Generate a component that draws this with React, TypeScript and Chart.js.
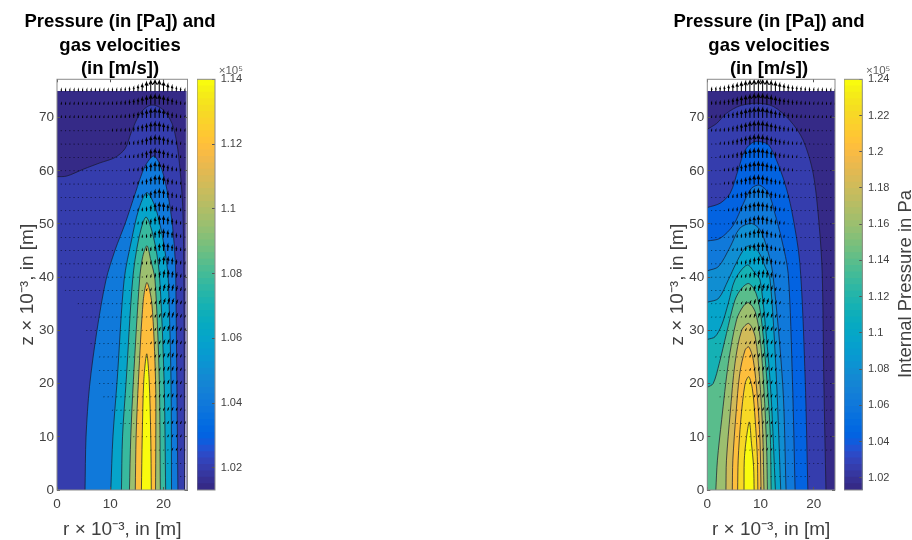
import React, { useEffect, useRef } from "react";
import { Chart, registerables } from "chart.js";

Chart.register(...registerables);

const FONT = "'Liberation Sans', Arial, sans-serif";
const INK = "#404040";
const EDGE = "#8a8a8a";

const titleLines = ["Pressure (in [Pa]) and", "gas velocities", "(in [m/s])"];
const xLabel = "r × 10⁻³, in [m]";
const yLabel = "z × 10⁻³, in [m]";
const barLabel = "Internal Pressure in Pa";
const barExponent = "×10⁵";
const xTicks = [0, 10, 20];
const yTicks = [0, 10, 20, 30, 40, 50, 60, 70];
const leftBarTicks = [1.02, 1.04, 1.06, 1.08, 1.1, 1.12, 1.14];
const rightBarTicks = [1.02, 1.04, 1.06, 1.08, 1.1, 1.12, 1.14, 1.16, 1.18, 1.2, 1.22, 1.24];

const parula = [
  [.2081,.1663,.5292],[.2116,.1898,.5777],[.2123,.2138,.6270],[.2081,.2386,.6771],[.1959,.2645,.7279],[.1707,.2919,.7792],[.1253,.3242,.8303],[.0591,.3598,.8683],
  [.0117,.3875,.8820],[.0060,.4086,.8828],[.0165,.4266,.8786],[.0329,.4430,.8720],[.0498,.4586,.8641],[.0629,.4737,.8554],[.0723,.4887,.8467],[.0779,.5040,.8384],
  [.0793,.5200,.8312],[.0749,.5375,.8263],[.0641,.5570,.8240],[.0488,.5772,.8228],[.0343,.5966,.8199],[.0265,.6137,.8135],[.0239,.6287,.8038],[.0231,.6418,.7913],
  [.0228,.6535,.7768],[.0267,.6642,.7607],[.0384,.6743,.7436],[.0590,.6838,.7254],[.0843,.6928,.7062],[.1133,.7015,.6859],[.1453,.7098,.6646],[.1801,.7177,.6424],
  [.2178,.7250,.6193],[.2586,.7317,.5954],[.3022,.7376,.5712],[.3482,.7424,.5473],[.3953,.7459,.5244],[.4420,.7481,.5033],[.4871,.7491,.4840],[.5300,.7491,.4661],
  [.5709,.7485,.4494],[.6099,.7473,.4337],[.6473,.7456,.4188],[.6834,.7435,.4044],[.7184,.7411,.3905],[.7525,.7384,.3768],[.7858,.7356,.3633],[.8185,.7327,.3498],
  [.8507,.7299,.3360],[.8824,.7274,.3217],[.9139,.7258,.3063],[.9450,.7261,.2886],[.9739,.7314,.2666],[.9938,.7455,.2403],[.9990,.7653,.2164],[.9955,.7861,.1967],
  [.9880,.8066,.1794],[.9789,.8271,.1633],[.9697,.8481,.1475],[.9626,.8705,.1309],[.9589,.8949,.1132],[.9598,.9218,.0948],[.9661,.9514,.0755],[.9763,.9831,.0538],
];

// Contours, outermost first, as [r, z] pairs
const leftContours = [
  [[0,58.9],[1.8,59],[4.95,60.3],[8.1,61.5],[10.9,62.5],[12.8,64.2],[14,67.4],[15.6,70.8],[17.2,72.2],[18.4,72.3],[20,71.4],[21.6,68.9],[22.5,65.2],[23.1,60.2],[23.6,53.3],[23.8,42],[23.9,20],[23.95,0]],
  [[5.26,0],[5.45,10],[6.1,19.4],[7.5,30],[9.2,39.5],[10.9,45.1],[12.8,50.1],[14.7,55.8],[16.5,60.8],[18.2,62.8],[19.7,60.2],[20.9,55.1],[21.7,49.5],[22.2,43.2],[22.3,39.5],[22.5,20.7],[22.7,0]],
  [[10.1,0],[10.5,10],[11.3,20.7],[12.6,39.5],[14,47],[15.3,52.6],[16.85,55.9],[18.4,53.3],[19.7,48.2],[20.6,42.6],[20.9,39.5],[21.4,20.7],[21.5,0]],
  [[12.1,0],[12.3,10],[13,20.7],[14.2,39.5],[15.3,47],[16.7,51.3],[18.1,47.6],[19.2,40.7],[20.1,20.7],[20.4,0]],
  [[13.6,0],[13.85,10],[14.35,20.7],[15.5,39.5],[16.1,43.9],[16.9,45.9],[17.6,43.2],[18.4,39.5],[19.2,20.7],[19.4,0]],
  [[14.7,0],[14.85,10],[15.3,20.7],[16.2,35.7],[16.9,39],[17.8,35.1],[18.5,20.7],[18.55,10],[18.5,0]],
  [[15.85,0],[16,10],[16.3,20.7],[16.85,25.6],[17.3,20.7],[17.6,10],[17.7,0]],
];
const leftBandColors = [0, 3, 13, 23, 32, 41, 53, 63];

const rightContours = [
  [[0,67.8],[1.75,68.9],[3.6,70.8],[6.1,72.2],[9.3,72.7],[12.4,72.1],[15.5,69.5],[18,65.8],[19.9,59.5],[21.05,49.5],[21.6,40.7],[21.9,20.7],[22.3,0]],
  [[0,53.1],[2.4,53.9],[4.3,55.8],[5.8,60.2],[7.1,63.9],[8.65,65.4],[9.8,65.5],[11.5,64.9],[13,62],[14.6,57.6],[15.85,52.6],[17.4,42.6],[18.4,20.7],[18.9,0]],
  [[0,46.8],[2.4,47.3],[4.9,49.8],[6.8,53.9],[8.3,56.7],[9.8,57.3],[11.5,55.8],[12.7,52],[14,47],[15.2,40.7],[16,20.7],[16.5,0]],
  [[0,41.2],[2.1,42],[4.3,45.7],[6.1,49.2],[8.3,50.1],[9.9,48.9],[11.15,45.7],[12.3,40.7],[14.2,19.4],[14.8,0]],
  [[0,35.3],[2.1,36],[3.95,39.5],[5.4,42.6],[6.8,45.1],[7.9,45.9],[9.6,44.8],[10.85,42],[11.8,39.5],[13,20.7],[13.8,0]],
  [[0,28.3],[1.45,28.8],[2.7,31],[3.95,35.1],[5.2,39.5],[7.5,42.3],[9,40.7],[9.9,39.5],[11,30],[12,17.5],[12.8,0]],
  [[0,19.3],[1.1,20],[2.25,23.8],[3.6,29.4],[5.2,35.7],[6.45,37.9],[7.8,38.8],[9.15,37],[10.1,32.6],[11,23.2],[11.8,11.3],[12,0]],
  [[1.6,0],[1.9,5.6],[2.7,13.2],[3.95,23.8],[5.5,32],[6.8,34.6],[7.8,35.2],[9,33.5],[9.9,28.8],[10.65,18.8],[11.15,8.1],[11.3,0]],
  [[3.5,0],[3.6,5.6],[4.3,14.4],[5.2,23.8],[6.45,30],[7.8,31.3],[9,28.8],[9.8,21.3],[10.4,11.3],[10.65,0]],
  [[4.7,0],[4.8,5.6],[5.4,14.4],[6.1,21.9],[7.1,26.3],[7.8,26.9],[8.65,24.4],[9.4,17.5],[9.9,9.4],[10.1,0]],
  [[5.7,0],[5.8,5.6],[6.3,13.2],[7.1,20],[7.8,21.3],[8.5,18.8],[9,13.2],[9.4,6.3],[9.5,0]],
  [[6.9,0],[6.95,5.6],[7.3,9.4],[7.9,12.8],[8.3,8.8],[8.7,4.4],[8.8,0]],
];
const rightBandColors = [0, 3, 8, 13, 18, 23, 28, 35, 41, 47, 53, 58, 63];

// Velocity arrows: one row per height, one value per radial column (length, hundredths of a metre)
const arrowHeights = [75,72.5,70,67.5,65,62.5,60,57.5,55,52.5,50,47.5,45,42.5,40,37.5,35,32.5,30,27.5,25,22.5,20,17.5,15,12.5,10,7.5,5,2.5];
const leftArrowTilt = [0,0,0,0,0,0,0,0,0,0,0,0,0,.05,.1,.2,.3,.3,.3,.3,.3,.3,.3,.3,.3,.3,.3,.3,.3,.3];
const rightArrowTilt = [0,0,0,0,0,0,0,0,0,0,0,0,0,.05,.1,.2,.3,.3,.3,.3,.3,.3,.3,.3,.3,.3,.3,.3,.3,.3];
const leftArrows = [
  [25,25,25,25,25,25,25,25,25,25,25,25,30,30,35,40,50,65,90,120,160,190,200,190,160,120,90,60,40,25],
  [15,15,15,15,15,15,15,15,15,15,18,20,22,25,30,40,55,70,90,115,140,165,175,165,140,110,80,50,30,15],
  [10,10,10,10,10,10,10,10,10,10,10,12,14,17,22,30,40,55,75,100,125,150,160,150,125,95,65,40,25,12],
  [8,8,8,8,8,8,8,8,8,8,8,8,10,12,15,20,30,45,65,90,115,140,155,145,120,90,60,35,20,10],
  [6,6,6,6,6,6,6,6,6,6,6,6,6,8,10,14,20,30,45,70,100,130,150,140,115,85,55,30,15,8],
  [5,5,5,5,5,5,5,5,5,5,5,5,5,5,7,10,15,25,40,65,95,130,150,135,110,80,50,25,12,6],
  [4,4,4,4,4,4,4,4,4,4,4,4,4,4,4,7,11,18,30,50,80,115,145,135,110,80,50,28,14,6],
  [4,4,4,4,4,4,4,4,4,4,4,4,4,4,4,6,9,15,25,40,70,105,140,140,115,85,55,30,15,6],
  [3,3,3,3,3,3,3,3,3,3,3,3,3,3,3,3,6,10,18,30,55,90,125,140,120,90,60,35,18,7],
  [3,3,3,3,3,3,3,3,3,3,3,3,3,3,3,3,5,8,14,25,45,75,115,135,125,95,65,40,20,8],
  [2,2,2,2,2,2,2,2,2,2,2,2,2,2,2,2,2,6,11,20,35,65,100,130,130,100,70,45,22,8],
  [2,2,2,2,2,2,2,2,2,2,2,2,2,2,2,2,2,5,9,16,28,50,85,120,130,105,75,50,25,9],
  [2,2,2,2,2,2,2,2,2,2,2,2,2,2,2,2,2,2,7,13,22,40,70,105,125,110,80,52,28,10],
  [2,2,2,2,2,2,2,2,2,2,2,2,2,2,2,2,2,2,6,11,18,30,55,90,115,110,85,55,30,11],
  [1,1,1,1,1,1,1,1,1,1,1,1,1,1,1,1,1,1,1,8,14,25,45,75,105,105,85,58,32,12],
  [0,1,1,1,1,1,1,1,1,1,1,1,1,1,1,1,1,1,1,6,11,20,35,60,90,95,80,58,32,12],
  [0,0,0,0,1,1,1,1,1,1,1,1,1,1,1,1,1,1,1,5,9,16,28,48,75,85,72,52,30,12],
  [0,0,0,0,0,1,1,1,1,1,1,1,1,1,1,1,1,1,1,4,8,14,24,40,65,75,65,48,28,10],
  [0,0,0,0,0,0,1,1,1,1,1,1,1,1,1,1,1,1,1,4,7,12,20,35,55,68,60,45,26,10],
  [0,0,0,0,0,0,0,1,1,1,1,1,1,1,1,1,1,1,1,3,6,10,18,30,48,60,55,40,24,10],
  [0,0,0,0,0,0,0,0,0,1,1,1,1,1,1,1,1,1,1,3,5,9,15,26,42,55,50,38,22,9],
  [0,0,0,0,0,0,0,0,0,1,1,1,1,1,1,1,1,1,1,1,4,8,13,22,36,48,45,34,20,9],
  [0,0,0,0,0,0,0,0,0,1,1,1,1,1,1,1,1,1,1,1,3,7,11,19,30,42,40,30,18,8],
  [0,0,0,0,0,0,0,0,0,0,1,1,1,1,1,1,1,1,1,1,3,6,10,16,26,36,36,27,16,7],
  [0,0,0,0,0,0,0,0,0,0,0,0,1,1,1,1,1,1,1,1,3,5,8,13,21,30,30,23,14,6],
  [0,0,0,0,0,0,0,0,0,0,0,0,0,0,1,1,1,1,1,1,1,2,4,6,10,16,23,24,18,11],
  [0,0,0,0,0,0,0,0,0,0,0,0,0,0,0,0,0,1,1,1,1,2,3,5,8,12,18,18,14,8],
  [0,0,0,0,0,0,0,0,0,0,0,0,0,0,0,0,0,0,0,0,0,1,2,3,5,8,12,12,10,6],
  [0,0,0,0,0,0,0,0,0,0,0,0,0,0,0,0,0,0,0,0,0,0,0,0,1,3,5,7,7,5],
  [0,0,0,0,0,0,0,0,0,0,0,0,0,0,0,0,0,0,0,0,0,0,0,0,0,0,0,0,1,2],
];
const rightArrows = [
  [45,50,60,70,90,110,130,155,175,190,200,205,205,195,180,160,135,110,90,75,65,55,45,40,35,30,30,25,25,25],
  [30,35,40,50,65,85,105,130,150,170,185,190,185,170,150,125,100,80,65,50,40,32,26,22,20,18,16,15,14,14],
  [15,18,25,35,50,70,90,115,140,160,175,180,175,155,130,105,85,65,50,38,28,22,18,15,13,12,11,10,10,10],
  [10,12,16,25,40,60,80,105,130,150,165,170,165,145,120,95,72,55,40,28,20,15,12,10,9,8,8,7,7,7],
  [7,9,13,20,32,50,72,98,122,145,160,165,155,135,110,85,62,45,30,20,14,11,9,8,7,6,6,6,5,5],
  [5,7,10,16,26,42,65,90,115,140,155,160,150,128,100,75,55,38,24,15,10,8,7,6,5,5,5,4,4,4],
  [4,5,8,13,22,36,58,82,108,132,150,155,145,120,92,68,46,30,18,11,8,6,5,4,4,4,4,3,3,3],
  [3,4,6,10,18,30,50,75,100,125,145,150,140,115,85,60,40,25,15,9,6,5,4,3,3,3,3,3,3,3],
  [3,3,5,8,14,25,42,65,92,118,138,148,135,110,80,55,35,20,11,7,5,4,3,3,3,3,2,2,2,2],
  [2,3,4,7,12,20,35,55,82,110,130,140,132,108,78,52,32,17,9,6,4,3,3,2,2,2,2,2,2,2],
  [2,2,3,5,9,16,28,46,72,100,122,135,130,105,75,48,28,15,8,5,3,3,2,2,2,2,2,2,2,2],
  [2,2,3,4,7,13,22,38,62,90,115,130,125,102,72,45,25,13,7,4,3,2,2,2,2,2,2,2,2,2],
  [1,2,2,3,6,10,17,30,52,78,105,120,122,100,70,42,23,11,6,4,3,2,2,2,1,1,1,1,1,1],
  [1,1,2,3,5,8,13,24,42,68,95,112,118,98,68,40,21,10,5,3,2,2,1,1,1,1,1,1,1,1],
  [1,1,1,2,4,6,10,18,32,55,82,100,108,95,65,38,19,9,5,3,2,1,1,1,1,1,1,1,1,1],
  [1,1,1,2,3,5,8,14,25,45,70,88,98,88,60,35,18,9,4,2,1,1,1,1,1,1,1,1,1,1],
  [1,1,1,1,3,4,6,11,20,36,58,75,80,72,52,32,16,8,4,2,1,1,1,1,1,1,1,1,1,1],
  [1,1,1,1,2,3,5,9,16,30,48,64,72,64,46,28,14,7,3,2,1,1,1,1,1,1,1,1,1,1],
  [1,1,1,1,2,3,4,8,13,24,40,56,65,58,42,25,13,6,3,2,1,1,1,1,1,1,1,1,1,1],
  [0,1,1,1,1,2,4,6,11,20,34,48,58,52,38,22,11,6,3,1,1,1,1,1,1,1,1,1,1,1],
  [0,1,1,1,1,2,3,5,9,16,28,42,50,47,34,20,10,5,2,1,1,1,1,1,1,1,1,1,1,1],
  [0,0,1,1,1,2,3,4,7,13,23,36,44,42,31,18,9,5,2,1,1,1,1,1,1,1,1,1,1,1],
  [0,0,1,1,1,1,2,3,6,11,19,30,38,37,27,16,8,4,2,1,1,1,1,1,1,1,1,1,1,1],
  [0,0,1,1,1,1,2,3,5,9,15,24,32,32,24,14,7,3,2,1,1,1,1,1,1,1,1,1,1,1],
  [0,0,0,0,1,1,1,2,4,7,12,19,26,27,20,12,6,3,1,1,1,1,1,1,1,1,1,1,1,1],
  [0,0,0,0,0,1,1,2,3,5,9,14,20,22,17,10,5,2,1,1,1,1,1,1,1,1,1,1,1,1],
  [0,0,0,0,0,0,1,1,2,4,7,10,15,17,14,8,4,2,1,1,1,1,1,1,1,1,1,1,1,1],
  [0,0,0,0,0,0,0,0,1,2,4,7,10,12,10,6,3,2,1,1,1,1,1,1,1,1,1,1,1,0],
  [0,0,0,0,0,0,0,0,0,0,1,3,5,7,8,6,3,2,1,1,1,1,1,1,1,1,1,0,0,0],
  [0,0,0,0,0,0,0,0,0,0,0,0,0,0,1,2,3,4,3,2,1,1,1,1,0,0,0,0,0,0],
];

const hex = (c: number[]) => `rgb(${c.map((v) => Math.round(v * 255)).join(",")})`;

function arrowPoints(rows: number[][], tilt: number[], dr: number, minLen: number, maxLen: number) {
  const pts: { x: number; y: number }[] = [];
  rows.forEach((row, i) => {
    const z = arrowHeights[i];
    row.forEach((len, j) => {
      if (!len || len < minLen || len > maxLen) return;
      const r = dr * (j + 1);
      const w = Math.max(len, 5) / 100;
      const u = w * tilt[i];
      const tip = { x: r + u, y: z + w };
      const bx = tip.x - 0.36 * u, by = tip.y - 0.36 * w;
      const sx = 0.17 * w, sy = 0.17 * u;
      pts.push({ x: r, y: z }, tip, { x: bx - sx, y: by + sy }, tip, { x: bx + sx, y: by - sy }, { x: NaN, y: NaN });
    });
  });
  return pts;
}

const bandFill = {
  id: "bandFill",
  beforeDatasetDraw(chart: any, args: any) {
    const ds = chart.data.datasets[args.index];
    if (!ds.band) return;
    const line = args.meta.dataset;
    line.updateControlPoints(chart.chartArea, "x");
    const ctx = chart.ctx;
    ctx.save();
    ctx.beginPath();
    line.path(ctx);
    if (ds.data[0].x === 0 && ds.data[0].y > 0 && ds.data.length > 4) {
      ctx.lineTo(chart.scales.x.getPixelForValue(0), chart.scales.y.getPixelForValue(0));
    }
    ctx.closePath();
    ctx.fillStyle = ds.band;
    ctx.fill();
    ctx.restore();
  },
};

const boxFrame = {
  id: "boxFrame",
  afterDraw(chart: any) {
    const { left, top, width, height } = chart.chartArea;
    const ctx = chart.ctx;
    ctx.save();
    ctx.strokeStyle = EDGE;
    ctx.lineWidth = 1;
    ctx.strokeRect(left, top, width, height);
    ctx.restore();
  },
};

const sideLabel = {
  id: "sideLabel",
  afterDraw(chart: any, _a: any, opts: any) {
    if (!opts.text) return;
    const ctx = chart.ctx;
    ctx.save();
    ctx.translate(opts.x, opts.y);
    ctx.rotate(-Math.PI / 2);
    ctx.font = `18.5px ${FONT}`;
    ctx.fillStyle = INK;
    ctx.textAlign = "center";
    ctx.textBaseline = "middle";
    ctx.fillText(opts.text, 0, 0);
    ctx.restore();
  },
};

const setTicks = (list: number[]) => (s: any) => {
  s.ticks = list.map((value) => ({ value }));
};

function plotConfig(contours: number[][][], bands: number[], dataR: number, axisR: number, rows: number[][], tilt: number[], dr: number, strip: boolean, spareRight: number, leftWidth: number) {
  const datasets: any[] = [];
  let order = 100;
  if (strip) {
    datasets.push({ data: [{ x: dataR, y: 0 }, { x: dataR, y: 75 }, { x: axisR, y: 75 }, { x: axisR, y: 0 }], band: "rgb(152,150,192)", borderWidth: 0, tension: 0.00001, order: order-- });
  }
  datasets.push({ data: [{ x: 0, y: 0 }, { x: 0, y: 75 }, { x: dataR, y: 75 }, { x: dataR, y: 0 }], band: hex(parula[bands[0]]), borderWidth: 0, tension: 0.00001, order: order-- });
  contours.forEach((c, i) => {
    datasets.push({ data: c.map(([x, y]) => ({ x, y })), band: hex(parula[bands[i + 1]]), borderColor: "rgba(25,25,45,0.9)", borderWidth: 0.8, tension: 0.3, order: order-- });
  });
  datasets.push({ data: arrowPoints(rows, tilt, dr, 1, 9), borderColor: "rgba(0,0,0,0.75)", borderWidth: 0.7, borderCapStyle: "round", tension: 0.00001, spanGaps: false, order: 1 });
  datasets.push({ data: arrowPoints(rows, tilt, dr, 10, 999), borderColor: "#000", borderWidth: 1.05, borderCapStyle: "round", tension: 0.00001, spanGaps: false, order: 0 });
  datasets.forEach((d) => Object.assign(d, { showLine: true, fill: false, pointRadius: 0, pointHoverRadius: 0 }));

  const inward = { drawOnChartArea: false, drawTicks: true, tickLength: -3, tickColor: "#555", z: 1 };
  return {
    type: "scatter",
    data: { datasets },
    plugins: [bandFill, boxFrame],
    options: {
      responsive: false,
      animation: false,
      events: [],
      layout: { autoPadding: false, padding: 0 },
      plugins: {
        legend: { display: false },
        tooltip: { enabled: false },
        title: {
          display: true,
          text: titleLines,
          color: "#000",
          font: { family: FONT, size: 18.5, weight: "bold", lineHeight: 1.27 },
          padding: { top: 10.6, bottom: -1.8 },
        },
      },
      scales: {
        x: {
          type: "linear", position: "bottom", min: 0, max: axisR,
          afterBuildTicks: setTicks(xTicks),
          afterFit: (s: any) => { s.height = 50; },
          grid: inward, border: { display: false },
          ticks: { color: INK, font: { family: FONT, size: 13.5 }, padding: 9, maxRotation: 0, callback: (v: any) => String(v) },
          title: { display: true, text: xLabel, color: INK, font: { family: FONT, size: 19 }, padding: { top: 0, bottom: -1 } },
        },
        x2: {
          type: "linear", position: "top", min: 0, max: axisR,
          afterBuildTicks: setTicks(xTicks),
          afterFit: (s: any) => { s.height = 0; },
          grid: inward, border: { display: false }, ticks: { display: false },
        },
        y: {
          type: "linear", position: "left", min: 0, max: 77.2,
          afterBuildTicks: setTicks(yTicks),
          afterFit: (s: any) => { s.width = leftWidth; },
          grid: inward, border: { display: false },
          ticks: { color: INK, font: { family: FONT, size: 13.5 }, padding: 6, callback: (v: any) => String(v) },
          title: { display: true, text: yLabel, color: INK, font: { family: FONT, size: 19 }, padding: { top: 16, bottom: 0 } },
        },
        y2: {
          type: "linear", position: "right", min: 0, max: 77.2,
          afterBuildTicks: setTicks(yTicks),
          afterFit: (s: any) => { s.width = spareRight; },
          grid: inward, border: { display: false }, ticks: { display: false },
        },
      },
    },
  };
}

function barConfig(ticks: number[], min: number, max: number, paddingRight: number, side: any) {
  const datasets = parula.map((c, i) => ({
    data: [[min, min + ((max - min) * (i + 1)) / parula.length]],
    backgroundColor: hex(c),
    borderWidth: 0,
    barPercentage: 1,
    categoryPercentage: 1,
    grouped: false,
  }));
  return {
    type: "bar",
    data: { labels: ["p"], datasets },
    plugins: [boxFrame, sideLabel],
    options: {
      responsive: false,
      animation: false,
      events: [],
      layout: { autoPadding: false, padding: { right: paddingRight, bottom: 50, left: 0, top: 0 } },
      plugins: {
        legend: { display: false },
        tooltip: { enabled: false },
        title: {
          display: true, text: barExponent, align: "end", color: "#606060",
          font: { family: FONT, size: 11.5, weight: "normal", lineHeight: 1.2 },
          padding: { top: 64, bottom: 1.5 },
        },
        sideLabel: side,
      },
      scales: {
        x: { display: false },
        y: {
          position: "right", min, max,
          afterBuildTicks: setTicks(ticks),
          afterFit: (s: any) => { s.width = 28; },
          grid: { drawOnChartArea: false, drawTicks: true, tickLength: -3, tickColor: "#555", z: 1 },
          border: { display: false },
          ticks: { color: INK, font: { family: FONT, size: 11 }, padding: 8.7, callback: (v: any) => String(v) },
        },
      },
    },
  };
}

const place = (x: number, w: number): React.CSSProperties => ({ position: "absolute", left: x, top: 0, width: w, height: 540, display: "block" });

export default function App() {
  const a = useRef<HTMLCanvasElement>(null);
  const b = useRef<HTMLCanvasElement>(null);
  const c = useRef<HTMLCanvasElement>(null);
  const d = useRef<HTMLCanvasElement>(null);
  useEffect(() => {
    document.body.style.margin = "0";
    document.body.style.overflow = "hidden";
    const charts = [
      new Chart(a.current as any, plotConfig(leftContours, leftBandColors, 24.2, 24.5, leftArrows, leftArrowTilt, 0.8, true, 52.5, 57) as any),
      new Chart(b.current as any, barConfig(leftBarTicks, 1.0132, 1.14, 0, {}) as any),
      new Chart(c.current as any, plotConfig(rightContours, rightBandColors, 24, 24, rightArrows, rightArrowTilt, 0.8, false, 53, 57.3) as any),
      new Chart(d.current as any, barConfig(rightBarTicks, 1.0132, 1.24, 21.7, { text: barLabel, x: 62, y: 284 }) as any),
    ];
    return () => charts.forEach((x) => x.destroy());
  }, []);
  return (
    <div style={{ position: "absolute", left: 0, top: 0, width: 912, height: 540, background: "#fff", overflow: "hidden", filter: "blur(0.3px)" }}>
      <canvas ref={a} width={240} height={540} style={place(0, 240)} />
      <canvas ref={b} width={46} height={540} style={place(197, 46)} />
      <canvas ref={c} width={238} height={540} style={place(650, 238)} />
      <canvas ref={d} width={68} height={540} style={place(844.3, 68)} />
    </div>
  );
}
